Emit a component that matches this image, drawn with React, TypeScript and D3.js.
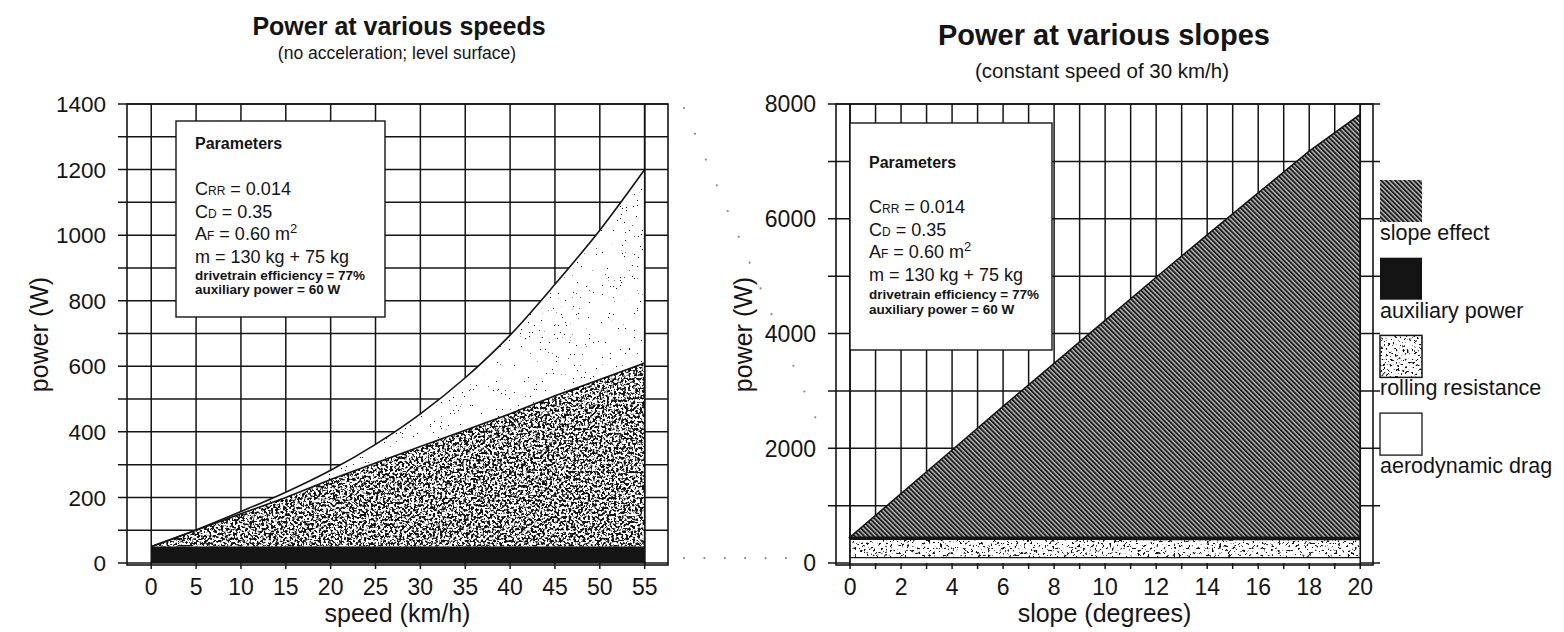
import { area, curveMonotoneX, line, scaleLinear } from "d3";

const font = "'Liberation Sans', Arial, Helvetica, sans-serif";
const ink = "#141414";

// power at various speeds (level surface), W
const speeds = [0, 5, 10, 15, 20, 25, 30, 35, 40, 45, 50, 55];
const speedAuxTop = [50, 50, 50, 50, 50, 50, 50, 50, 50, 50, 50, 50];
const speedRollingTop = [50, 100, 150, 200, 255, 305, 355, 405, 455, 510, 560, 610];
const speedDragTop = [50, 101, 157, 216, 283, 362, 455, 565, 695, 850, 1015, 1200];
const speedPowerTicks = [0, 200, 400, 600, 800, 1000, 1200, 1400];
const speedPowerGrid = [0, 100, 200, 300, 400, 500, 600, 700, 800, 900, 1000, 1100, 1200, 1300, 1400];

// power at various slopes (30 km/h), W
const slopes = [0, 2, 4, 6, 8, 10, 12, 14, 16, 18, 20];
const slopeDragTop = [95, 95, 95, 95, 95, 95, 95, 95, 95, 95, 95];
const slopeRollingTop = [400, 400, 400, 400, 399, 399, 398, 398, 397, 396, 395];
const slopeAuxTop = [450, 450, 450, 450, 449, 449, 448, 448, 447, 446, 445];
const slopeEffectTop = [450, 1210, 1970, 2730, 3480, 4230, 4980, 5720, 6450, 7180, 7820];
const slopeGrid = [0, 1, 2, 3, 4, 5, 6, 7, 8, 9, 10, 11, 12, 13, 14, 15, 16, 17, 18, 19, 20];
const slopePowerTicks = [0, 2000, 4000, 6000, 8000];
const slopePowerGrid = [0, 1000, 2000, 3000, 4000, 5000, 6000, 7000, 8000];

const legendLabels = ["slope effect", "auxiliary power", "rolling resistance", "aerodynamic drag"];
const legendFills = ["url(#hatch)", ink, "stipple", "#fff"];

const paramLines = [
  { base: "C", sub: "RR", rest: " = 0.014", sup: "" },
  { base: "C", sub: "D", rest: " = 0.35", sup: "" },
  { base: "A", sub: "F", rest: " = 0.60 m", sup: "2" },
  { base: "m = 130 kg + 75 kg", sub: "", rest: "", sup: "" }
];
const paramSmall = ["drivetrain efficiency = 77%", "auxiliary power = 60 W"];

const speedX = scaleLinear().domain([-2.7, 57.6]).range([127, 668]);
const speedY = scaleLinear().domain([0, 1400]).range([563, 104]);
const slopeX = scaleLinear().domain([-0.55, 20.5]).range([836, 1373]);
const slopeY = scaleLinear().domain([0, 8000]).range([563, 104]);

function Defs(): React.JSX.Element {
  return (
    <defs>
      <pattern id="hatch" width="3.3" height="3.3" patternUnits="userSpaceOnUse" patternTransform="rotate(-45)">
        <rect width="3.3" height="3.3" fill="#bdbdbd" />
        <rect width="1.9" height="3.3" fill="#1c1c1c" />
      </pattern>
      {[
        { id: "dense", freq: 0.42, oct: 3, k: 9, c: -4.15 },
        { id: "medium", freq: 0.42, oct: 2, k: 12, c: -7.2 },
        { id: "sparse", freq: 0.75, oct: 2, k: 40, c: -30 }
      ].map((f) => (
        <filter key={f.id} id={f.id} x="0" y="0" width="1" height="1" colorInterpolationFilters="sRGB">
          <feTurbulence type="fractalNoise" baseFrequency={f.freq} numOctaves={f.oct} seed={5} result="noise" />
          <feColorMatrix
            in="noise"
            type="matrix"
            values={`0 0 0 0 0  0 0 0 0 0  0 0 0 0 0  ${f.k} 0 0 0 ${f.c}`}
            result="mask"
          />
          <feComposite in="SourceGraphic" in2="mask" operator="in" />
        </filter>
      ))}
    </defs>
  );
}

function ParamsBox({
  x,
  y,
  width,
  height,
  offsets
}: {
  readonly x: number;
  readonly y: number;
  readonly width: number;
  readonly height: number;
  readonly offsets: readonly number[];
}): React.JSX.Element {
  const tx = x + 19;
  return (
    <g>
      <rect x={x} y={y} width={width} height={height} fill="#fff" stroke={ink} strokeWidth={1.4} />
      <text x={tx} y={y + offsets[0]} fontSize={16} fontWeight="bold" fill={ink}>
        Parameters
      </text>
      {paramLines.map((p, i) => (
        <text key={i} x={tx} y={y + offsets[i + 1]} fontSize={18} fill={ink}>
          {p.base}
          {p.sub !== "" ? <tspan fontSize={12}>{p.sub}</tspan> : null}
          {p.rest}
          {p.sup !== "" ? (
            <tspan fontSize={13} dy={-7}>
              {p.sup}
            </tspan>
          ) : null}
        </text>
      ))}
      {paramSmall.map((s, i) => (
        <text key={s} x={tx} y={y + offsets[5 + i]} fontSize={13.5} fontWeight="bold" fill={ink}>
          {s}
        </text>
      ))}
    </g>
  );
}

function SpeedPanel(): React.JSX.Element {
  const [x0, x1] = speedX.range();
  const top = speedY(1400);
  const bottom = speedY(0) + 2;
  const idx = speeds.map((_, i) => i);
  const aux = area<number>()
    .x((i) => speedX(speeds[i]))
    .y0(() => speedY(0))
    .y1((i) => speedY(speedAuxTop[i]));
  const rolling = area<number>()
    .x((i) => speedX(speeds[i]))
    .y0((i) => speedY(speedAuxTop[i]))
    .y1((i) => speedY(speedRollingTop[i]));
  const drag = area<number>()
    .curve(curveMonotoneX)
    .x((i) => speedX(speeds[i]))
    .y0((i) => speedY(speedRollingTop[i]))
    .y1((i) => speedY(speedDragTop[i]));
  const rollLine = line<number>()
    .x((i) => speedX(speeds[i]))
    .y((i) => speedY(speedRollingTop[i]));
  const dragLine = line<number>()
    .curve(curveMonotoneX)
    .x((i) => speedX(speeds[i]))
    .y((i) => speedY(speedDragTop[i]));
  const cx = (x0 + x1) / 2;
  return (
    <g>
      {speedPowerGrid.map((v) => (
        <line key={v} x1={x0 - 9} x2={x1} y1={speedY(v)} y2={speedY(v)} stroke={ink} strokeWidth={1.5} />
      ))}
      {speeds.map((s) => (
        <line key={s} x1={speedX(s)} x2={speedX(s)} y1={top} y2={bottom + 4} stroke={ink} strokeWidth={1.5} />
      ))}
      <path d={drag(idx) ?? ""} fill="#fff" />
      <path d={drag(idx) ?? ""} fill={ink} filter="url(#sparse)" />
      <path d={rolling(idx) ?? ""} fill="#fff" />
      <path d={rolling(idx) ?? ""} fill={ink} filter="url(#dense)" />
      <path d={aux(idx) ?? ""} fill={ink} />
      <path d={rollLine(idx) ?? ""} fill="none" stroke={ink} strokeWidth={1.6} />
      <path d={dragLine(idx) ?? ""} fill="none" stroke={ink} strokeWidth={1.6} />
      <line x1={speedX(55)} x2={speedX(55)} y1={top} y2={bottom} stroke={ink} strokeWidth={1.6} />
      <rect x={x0} y={top} width={x1 - x0} height={bottom - top} fill="none" stroke={ink} strokeWidth={1.6} />
      <ParamsBox x={176} y={121} width={209} height={196} offsets={[28, 74, 97, 119, 142, 159, 173]} />
      {speedPowerTicks.map((v) => (
        <text key={v} x={106} y={speedY(v)} dy="0.36em" textAnchor="end" fontSize={22.5} fill={ink}>
          {v}
        </text>
      ))}
      {speeds.map((s) => (
        <text key={s} x={speedX(s)} y={595} textAnchor="middle" fontSize={23} fill={ink}>
          {s}
        </text>
      ))}
      <text x={cx} y={622} textAnchor="middle" fontSize={25} fill={ink}>
        speed (km/h)
      </text>
      <text transform={`translate(48,${(top + bottom) / 2}) rotate(-90)`} textAnchor="middle" fontSize={25} fill={ink}>
        power (W)
      </text>
      <text x={399} y={35} textAnchor="middle" fontSize={25} fontWeight="bold" fill={ink}>
        Power at various speeds
      </text>
      <text x={397} y={59} textAnchor="middle" fontSize={17.5} fill={ink}>
        (no acceleration; level surface)
      </text>
    </g>
  );
}

function SlopePanel(): React.JSX.Element {
  const [x0, x1] = slopeX.range();
  const top = slopeY(8000);
  const bottom = slopeY(0) + 2;
  const idx = slopes.map((_, i) => i);
  const band = (lo: readonly number[], hi: readonly number[]) =>
    area<number>()
      .x((i) => slopeX(slopes[i]))
      .y0((i) => slopeY(lo[i]))
      .y1((i) => slopeY(hi[i]))(idx) ?? "";
  const zeros = slopes.map(() => 0);
  const topLine = (vals: readonly number[]) =>
    line<number>()
      .x((i) => slopeX(slopes[i]))
      .y((i) => slopeY(vals[i]))(idx) ?? "";
  const cx = (x0 + x1) / 2;
  return (
    <g>
      {slopePowerGrid.map((v) => (
        <line key={v} x1={x0 - 8} x2={x1 + 7} y1={slopeY(v)} y2={slopeY(v)} stroke={ink} strokeWidth={1.5} />
      ))}
      {slopeGrid.map((s) => (
        <line key={s} x1={slopeX(s)} x2={slopeX(s)} y1={top} y2={bottom + 4} stroke={ink} strokeWidth={1.5} />
      ))}
      <path d={band(zeros, slopeDragTop)} fill="#fff" />
      <path d={band(slopeDragTop, slopeRollingTop)} fill="#fff" />
      <path d={band(slopeDragTop, slopeRollingTop)} fill={ink} filter="url(#medium)" />
      <path d={band(slopeRollingTop, slopeAuxTop)} fill={ink} />
      <path d={band(slopeAuxTop, slopeEffectTop)} fill="url(#hatch)" stroke={ink} strokeWidth={1.5} />
      <path d={topLine(slopeDragTop)} fill="none" stroke={ink} strokeWidth={1.3} />
      <line x1={slopeX(0)} x2={slopeX(0)} y1={top} y2={bottom} stroke={ink} strokeWidth={1.6} />
      <line x1={slopeX(20)} x2={slopeX(20)} y1={top} y2={bottom} stroke={ink} strokeWidth={1.6} />
      <rect x={x0} y={top} width={x1 - x0} height={bottom - top} fill="none" stroke={ink} strokeWidth={1.6} />
      <ParamsBox x={850} y={123} width={202} height={227} offsets={[45, 90, 113, 135, 158, 176, 191]} />
      {slopePowerTicks.map((v) => (
        <text key={v} x={816} y={slopeY(v)} dy="0.36em" textAnchor="end" fontSize={23} fill={ink}>
          {v}
        </text>
      ))}
      {slopes.map((s) => (
        <text key={s} x={slopeX(s)} y={595} textAnchor="middle" fontSize={23} fill={ink}>
          {s}
        </text>
      ))}
      <text x={cx} y={622} textAnchor="middle" fontSize={25} fill={ink}>
        slope (degrees)
      </text>
      <text transform={`translate(752,${(top + bottom) / 2}) rotate(-90)`} textAnchor="middle" fontSize={25} fill={ink}>
        power (W)
      </text>
      <text x={1104} y={45} textAnchor="middle" fontSize={29} fontWeight="bold" fill={ink}>
        Power at various slopes
      </text>
      <text x={1102} y={78} textAnchor="middle" fontSize={20.5} fill={ink}>
        (constant speed of 30 km/h)
      </text>
    </g>
  );
}

function Connectors(): React.JSX.Element {
  const sx = speedX.range()[1] + 16;
  const ex = slopeX.range()[0] - 10;
  return (
    <g stroke="#888" strokeWidth={2.2} strokeLinecap="round" strokeDasharray="0 28">
      <line x1={sx} y1={speedY(1400) + 4} x2={ex} y2={slopeY(2100)} />
      <line x1={sx} y1={speedY(15)} x2={ex - 38} y2={speedY(15)} strokeDasharray="0 20.4" />
    </g>
  );
}

function Legend(): React.JSX.Element {
  const lx = 1380;
  return (
    <g>
      {legendLabels.map((label, i) => {
        const y = 180 + i * 77.7;
        const fill = legendFills[i];
        return (
          <g key={label}>
            {fill === "stipple" ? (
              <>
                <rect x={lx} y={y} width={42} height={42} fill="#fff" />
                <rect x={lx} y={y} width={42} height={42} fill={ink} filter="url(#medium)" />
                <rect x={lx} y={y} width={42} height={42} fill="none" stroke={ink} strokeWidth={1.5} />
              </>
            ) : (
              <rect
                x={lx}
                y={y}
                width={42}
                height={42}
                fill={fill}
                stroke={fill === "#fff" ? ink : "none"}
                strokeWidth={1.3}
              />
            )}
            <text x={lx} y={y + 60} fontSize={21.5} fill={ink}>
              {label}
            </text>
          </g>
        );
      })}
    </g>
  );
}

export default function App(): React.JSX.Element {
  return (
    <svg
      width={1564}
      height={632}
      viewBox="0 0 1564 632"
      fontFamily={font}
      style={{ position: "absolute", left: 0, top: 0, background: "#fff", display: "block" }}
    >
      <Defs />
      <SpeedPanel />
      <SlopePanel />
      <Connectors />
      <Legend />
    </svg>
  );
}
